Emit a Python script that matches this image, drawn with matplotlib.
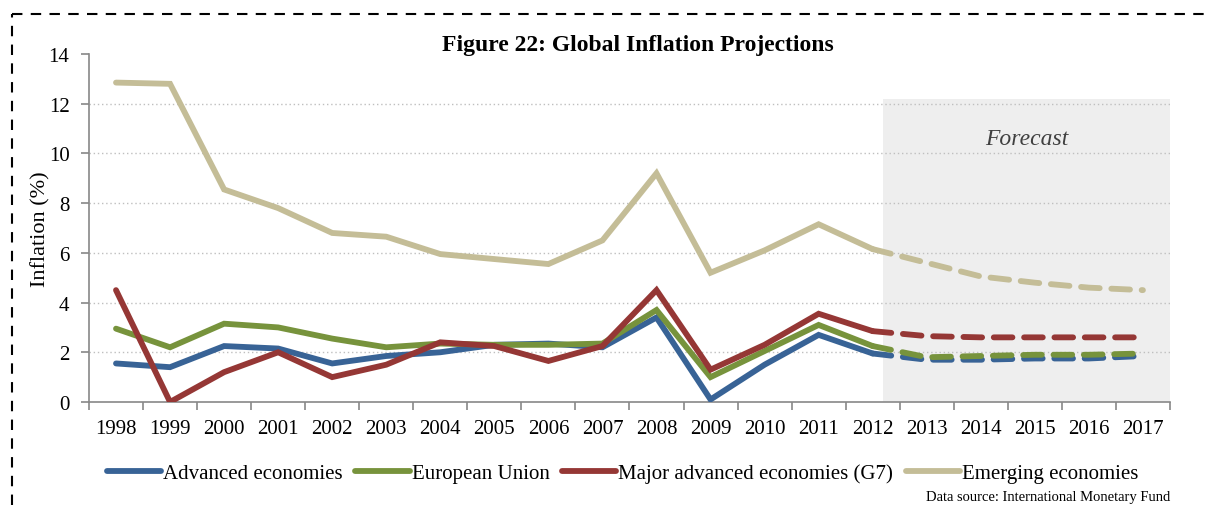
import matplotlib.pyplot as plt
from matplotlib.lines import Line2D

years = [str(y) for y in range(1998, 2018)]

advanced = [1.55, 1.4, 2.25, 2.15, 1.55, 1.85, 2.0, 2.3, 2.35, 2.2,
            3.4, 0.1, 1.5, 2.7, 1.95, 1.7, 1.7, 1.75, 1.75, 1.85]
eu = [2.95, 2.2, 3.15, 3.0, 2.55, 2.2, 2.35, 2.3, 2.3, 2.35,
      3.7, 1.0, 2.05, 3.1, 2.25, 1.8, 1.85, 1.9, 1.9, 1.95]
g7 = [4.5, 0.0, 1.2, 2.0, 1.0, 1.5, 2.4, 2.25, 1.65, 2.25,
      4.5, 1.3, 2.3, 3.55, 2.85, 2.65, 2.6, 2.6, 2.6, 2.6]
emerging = [12.85, 12.8, 8.55, 7.8, 6.8, 6.65, 5.95, 5.75, 5.55, 6.5,
            9.2, 5.2, 6.1, 7.15, 6.15, 5.6, 5.05, 4.8, 4.6, 4.5]

names = ['Advanced economies', 'European Union',
         'Major advanced economies (G7)', 'Emerging economies']
colors = ['#386396', '#77933c', '#953735', '#c4bd97']
series = [advanced, eu, g7, emerging]

split = years.index('2012')

plt.rcParams['font.family'] = ['Liberation Serif', 'DejaVu Serif']

fig = plt.figure(figsize=(12.09, 5.06), dpi=100)
ax = fig.add_axes([0.0736, 0.2036, 0.8941, 0.6877])

x = list(range(len(years)))

# forecast shading
ax.fill_between([14.2, 19.5], 0, 12.2, color='#eeeeee', zorder=0, linewidth=0)
ax.text(16.85, 10.62, 'Forecast', fontsize=17, style='italic', color='#404040',
        ha='center', va='center')

# emerging first so the others sit on top
order = [3, 0, 1, 2]
lw = 4.2
for i in order:
    vals = series[i]
    ax.plot(x[:split + 1], vals[:split + 1], color=colors[i], lw=lw,
            solid_capstyle='round', solid_joinstyle='miter', zorder=3)
    ax.plot(x[split:], vals[split:], color=colors[i], lw=lw,
            dashes=(3.2, 2.0), dash_capstyle='round', zorder=3)

ax.set_xlim(-0.5, 19.5)
ax.set_ylim(0, 14)
ax.set_xticks(x)
ax.set_xticklabels(years, fontsize=15)
ax.set_xticks([i - 0.5 for i in range(len(years) + 1)], minor=True)
ax.tick_params(axis='x', which='major', length=0, pad=12)
ax.tick_params(axis='x', which='minor', length=6, color='#888888', width=1.2)
ax.set_yticks(range(0, 15, 2))
ax.tick_params(axis='y', labelsize=15, length=6, color='#888888', width=1.2, pad=8)

for yv in range(2, 13, 2):
    ax.axhline(yv, color='#bfbfbf', lw=1, ls=(0, (1, 2)), zorder=1)

for side in ['top', 'right']:
    ax.spines[side].set_visible(False)
for side in ['left', 'bottom']:
    ax.spines[side].set_color('#888888')
    ax.spines[side].set_linewidth(1.2)

ax.set_ylabel('Inflation (%)', fontsize=16, labelpad=0)
ax.yaxis.set_label_coords(-0.036, 0.5)

fig.text(0.528, 1 - 45 / 506, 'Figure 22: Global Inflation Projections',
         fontsize=17, fontweight='bold', ha='center', va='center')

handles = [Line2D([], [], color=c, lw=lw, solid_capstyle='round') for c in colors]
fig.legend(handles, names, loc='center', bbox_to_anchor=(0.515, 0.062), ncol=4,
           frameon=False, fontsize=15, handlelength=2.6, handletextpad=0.1,
           columnspacing=0.6)

fig.text(0.968, 0.004, 'Data source: International Monetary Fund',
         fontsize=10.5, ha='right', va='bottom')

# dashed frame on top and left, like the source image
border = dict(color='black', lw=1.5, ls=(0, (5, 4)), transform=fig.transFigure,
              clip_on=False)
fig.add_artist(Line2D([0.0099, 1.0], [0.970, 0.970], **border))
fig.add_artist(Line2D([0.0099, 0.0099], [0.0, 0.970], **border))

fig.savefig('out.png', dpi=100)
